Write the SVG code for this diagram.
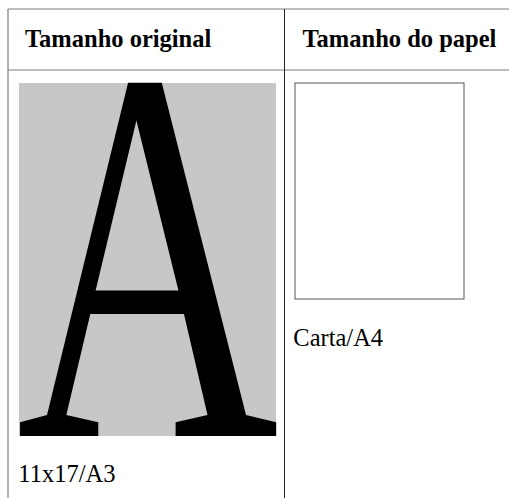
<svg xmlns="http://www.w3.org/2000/svg" width="509" height="498" viewBox="0 0 509 498">
<style>
.grid{stroke:#7f7f7f;stroke-width:1.2;fill:none}
.mid{stroke:#222;stroke-width:1;fill:none}
.hdr{font-family:"Liberation Serif",serif;font-weight:bold;font-size:24.5px;fill:#000}
.lbl{font-family:"Liberation Serif",serif;font-size:24.5px;fill:#000}
</style>
<rect width="509" height="498" fill="#fff"/>
<g id="table">
<line class="grid" x1="8" y1="9" x2="509" y2="9"/>
<line class="grid" x1="8" y1="70" x2="509" y2="70"/>
<line class="grid" x1="8" y1="9" x2="8" y2="498"/>
<line class="mid" x1="284.5" y1="9" x2="284.5" y2="498"/>
</g>
<g id="header-original"><text class="hdr" x="25" y="47">Tamanho original</text></g>
<g id="header-papel"><text class="hdr" x="302.5" y="47">Tamanho do papel</text></g>
<g id="original">
<rect x="19" y="83" width="257" height="353" fill="#c6c7c9"/>
<text transform="translate(16.5,436) scale(0.679,1)" font-family="Liberation Serif,serif" font-size="535" fill="#000">A</text>
<text class="lbl" x="18.3" y="481.5">11x17/A3</text>
</g>
<g id="papel">
<rect x="295" y="83" width="169" height="216" fill="#fff" stroke="#555" stroke-width="1"/>
<text class="lbl" x="293.3" y="346">Carta/A4</text>
</g>
</svg>
